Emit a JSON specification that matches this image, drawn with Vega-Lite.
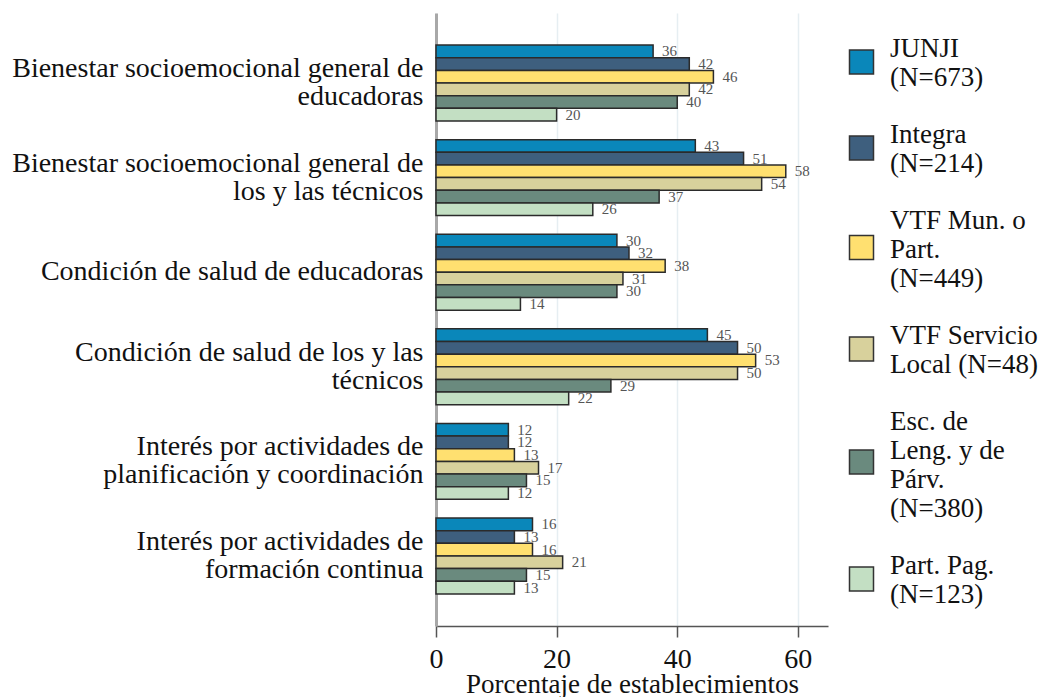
{
  "$schema": "https://vega.github.io/schema/vega-lite/v6.json",
  "width": 392,
  "height": 613,
  "autosize": {"type": "none"},
  "padding": {"left": 436, "top": 13, "right": 218, "bottom": 71},
  "background": "white",
  "data": {
    "values": [
      {"cat": "Bienestar socioemocional general de|educadoras", "series": "JUNJI|(N=673)", "value": 36},
      {"cat": "Bienestar socioemocional general de|educadoras", "series": "Integra|(N=214)", "value": 42},
      {"cat": "Bienestar socioemocional general de|educadoras", "series": "VTF Mun. o|Part.|(N=449)", "value": 46},
      {"cat": "Bienestar socioemocional general de|educadoras", "series": "VTF Servicio|Local (N=48)", "value": 42},
      {"cat": "Bienestar socioemocional general de|educadoras", "series": "Esc. de|Leng. y de|Párv.|(N=380)", "value": 40},
      {"cat": "Bienestar socioemocional general de|educadoras", "series": "Part. Pag.|(N=123)", "value": 20},
      {"cat": "Bienestar socioemocional general de|los y las técnicos", "series": "JUNJI|(N=673)", "value": 43},
      {"cat": "Bienestar socioemocional general de|los y las técnicos", "series": "Integra|(N=214)", "value": 51},
      {"cat": "Bienestar socioemocional general de|los y las técnicos", "series": "VTF Mun. o|Part.|(N=449)", "value": 58},
      {"cat": "Bienestar socioemocional general de|los y las técnicos", "series": "VTF Servicio|Local (N=48)", "value": 54},
      {"cat": "Bienestar socioemocional general de|los y las técnicos", "series": "Esc. de|Leng. y de|Párv.|(N=380)", "value": 37},
      {"cat": "Bienestar socioemocional general de|los y las técnicos", "series": "Part. Pag.|(N=123)", "value": 26},
      {"cat": "Condición de salud de educadoras", "series": "JUNJI|(N=673)", "value": 30},
      {"cat": "Condición de salud de educadoras", "series": "Integra|(N=214)", "value": 32},
      {"cat": "Condición de salud de educadoras", "series": "VTF Mun. o|Part.|(N=449)", "value": 38},
      {"cat": "Condición de salud de educadoras", "series": "VTF Servicio|Local (N=48)", "value": 31},
      {"cat": "Condición de salud de educadoras", "series": "Esc. de|Leng. y de|Párv.|(N=380)", "value": 30},
      {"cat": "Condición de salud de educadoras", "series": "Part. Pag.|(N=123)", "value": 14},
      {"cat": "Condición de salud de los y las|técnicos", "series": "JUNJI|(N=673)", "value": 45},
      {"cat": "Condición de salud de los y las|técnicos", "series": "Integra|(N=214)", "value": 50},
      {"cat": "Condición de salud de los y las|técnicos", "series": "VTF Mun. o|Part.|(N=449)", "value": 53},
      {"cat": "Condición de salud de los y las|técnicos", "series": "VTF Servicio|Local (N=48)", "value": 50},
      {"cat": "Condición de salud de los y las|técnicos", "series": "Esc. de|Leng. y de|Párv.|(N=380)", "value": 29},
      {"cat": "Condición de salud de los y las|técnicos", "series": "Part. Pag.|(N=123)", "value": 22},
      {"cat": "Interés por actividades de|planificación y coordinación", "series": "JUNJI|(N=673)", "value": 12},
      {"cat": "Interés por actividades de|planificación y coordinación", "series": "Integra|(N=214)", "value": 12},
      {"cat": "Interés por actividades de|planificación y coordinación", "series": "VTF Mun. o|Part.|(N=449)", "value": 13},
      {"cat": "Interés por actividades de|planificación y coordinación", "series": "VTF Servicio|Local (N=48)", "value": 17},
      {"cat": "Interés por actividades de|planificación y coordinación", "series": "Esc. de|Leng. y de|Párv.|(N=380)", "value": 15},
      {"cat": "Interés por actividades de|planificación y coordinación", "series": "Part. Pag.|(N=123)", "value": 12},
      {"cat": "Interés por actividades de|formación continua", "series": "JUNJI|(N=673)", "value": 16},
      {"cat": "Interés por actividades de|formación continua", "series": "Integra|(N=214)", "value": 13},
      {"cat": "Interés por actividades de|formación continua", "series": "VTF Mun. o|Part.|(N=449)", "value": 16},
      {"cat": "Interés por actividades de|formación continua", "series": "VTF Servicio|Local (N=48)", "value": 21},
      {"cat": "Interés por actividades de|formación continua", "series": "Esc. de|Leng. y de|Párv.|(N=380)", "value": 15},
      {"cat": "Interés por actividades de|formación continua", "series": "Part. Pag.|(N=123)", "value": 13}
    ]
  },
  "encoding": {
    "y": {
      "field": "cat",
      "type": "nominal",
      "sort": null,
      "scale": {"paddingInner": 0.197, "paddingOuter": 0.339},
      "axis": {
        "title": null,
        "labelExpr": "split(datum.label, '|')",
        "labelFont": "Liberation Serif",
        "labelFontSize": 28,
        "labelLineHeight": 28,
        "labelColor": "#111",
        "labelAlign": "right",
        "labelBaseline": {"condition": {"test": "indexof(datum.value, '|') >= 0", "value": "line-bottom"}, "value": "middle"},
        "labelPadding": 13,
        "labelLimit": 600,
        "ticks": false,
        "domain": true,
        "domainColor": "#a8a8a8",
        "domainWidth": 3,
        "grid": false
      }
    },
    "yOffset": {
      "field": "series",
      "type": "nominal",
      "sort": null,
      "scale": {"paddingInner": 0, "paddingOuter": 0}
    },
    "x": {
      "field": "value",
      "type": "quantitative",
      "scale": {"domain": [0, 65], "nice": false, "zero": true},
      "axis": {
        "title": "Porcentaje de establecimientos",
        "titleFont": "Liberation Serif",
        "titleFontSize": 27,
        "titleFontWeight": "normal",
        "titleColor": "#111",
        "titlePadding": -2,
        "values": [0, 20, 40, 60],
        "labelFont": "Liberation Serif",
        "labelFontSize": 28,
        "labelColor": "#111",
        "labelPadding": 8,
        "labelFlush": false,
        "domainColor": "#555",
        "domainWidth": 1.5,
        "tickColor": "#555",
        "tickWidth": 1.5,
        "tickSize": 11,
        "grid": true,
        "gridColor": "#e6eef2",
        "gridWidth": 1.5
      }
    }
  },
  "layer": [
    {
      "mark": {"type": "bar", "stroke": "#2b2b2b", "strokeWidth": 1.5, "opacity": 1},
      "encoding": {
        "color": {
          "field": "series",
          "type": "nominal",
          "sort": null,
          "scale": {
            "domain": ["JUNJI|(N=673)", "Integra|(N=214)", "VTF Mun. o|Part.|(N=449)", "VTF Servicio|Local (N=48)", "Esc. de|Leng. y de|Párv.|(N=380)", "Part. Pag.|(N=123)"],
            "range": ["#0a87ba", "#3e5f7e", "#ffe070", "#d8d19c", "#6a8a7e", "#c3dfc3"]
          },
          "legend": {
            "title": null,
            "orient": "none",
            "legendX": 412,
            "legendY": 22,
            "symbolType": {"expr": "indexof(datum.value, 'Esc.') >= 0 ? 'M-1,2.375H1V4.375H-1Z' : (indexof(datum.value, 'VTF Mun') >= 0 ? 'M-1,1.25H1V3.25H-1Z' : 'M-1,0.125H1V2.125H-1Z')"},
            "symbolSize": 576,
            "symbolStrokeColor": "#333",
            "symbolStrokeWidth": 1.5,
            "symbolOpacity": 1,
            "labelExpr": "split(datum.label, '|')",
            "labelFont": "Liberation Serif",
            "labelFontSize": 27,
            "labelLineHeight": 27,
            "labelColor": "#111",
            "labelOffset": 15,
            "labelLimit": 400,
            "rowPadding": 29
          }
        }
      }
    },
    {
      "mark": {"type": "text", "align": "left", "baseline": "middle", "dx": 9, "font": "Liberation Serif", "fontSize": 15, "color": "#555"},
      "encoding": {
        "text": {"field": "value", "type": "quantitative"}
      }
    }
  ],
  "config": {
    "view": {"stroke": null}
  }
}
